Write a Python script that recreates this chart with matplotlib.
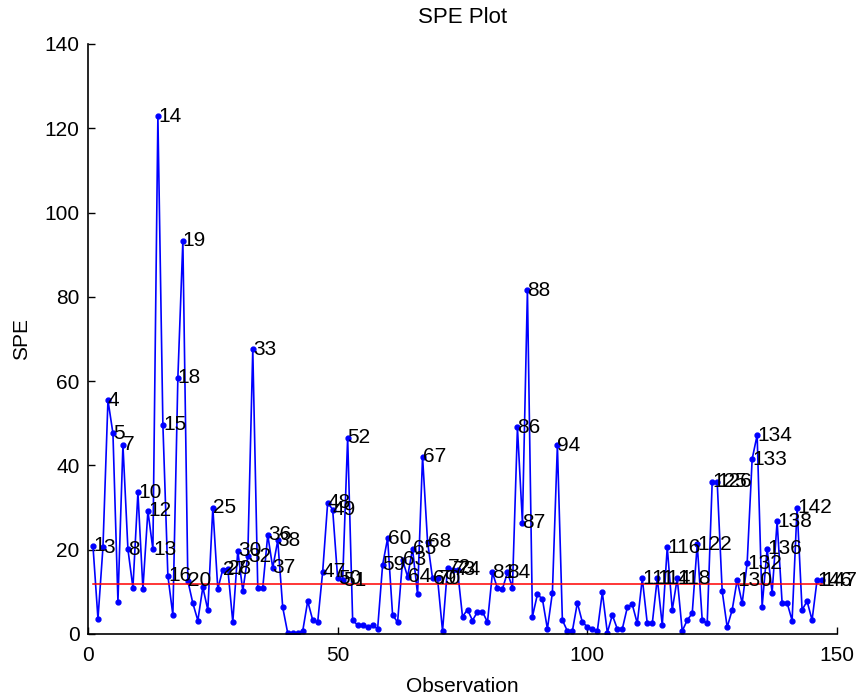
import numpy as np
import matplotlib.pyplot as plt

plt.rcParams['font.family'] = ['Liberation Sans', 'DejaVu Sans']

# SPE value for each observation 1..147
spe = [
    20.9, 3.6, 20.6, 55.5, 47.6, 7.7, 44.9, 20.1, 11.0, 33.6,
    10.7, 29.2, 20.1, 122.9, 49.7, 13.8, 4.5, 60.8, 93.3, 12.6,
    7.3, 3.2, 11.1, 5.7, 30.0, 10.7, 15.3, 15.5, 2.8, 19.8,
    10.2, 18.4, 67.6, 11.0, 11.0, 23.5, 15.7, 22.2, 6.3, 0.2,
    0.2, 0.3, 0.7, 7.8, 3.3, 2.8, 14.8, 31.2, 29.5, 13.2,
    12.8, 46.6, 3.3, 2.1, 2.1, 1.6, 2.1, 1.2, 16.4, 22.7,
    4.5, 2.8, 17.6, 13.6, 20.2, 9.4, 42.1, 21.9, 13.2, 13.2,
    0.7, 15.7, 15.2, 15.2, 4.1, 5.8, 3.2, 5.3, 5.3, 2.8,
    14.6, 10.8, 10.7, 14.6, 11.0, 49.0, 26.4, 81.6, 4.1, 9.4,
    8.3, 1.2, 9.8, 44.8, 3.3, 0.7, 0.7, 7.4, 2.8, 1.7,
    1.2, 0.7, 9.9, 0.3, 4.5, 1.2, 1.2, 6.3, 7.0, 2.5,
    13.2, 2.5, 2.5, 13.2, 2.1, 20.6, 5.7, 13.2, 0.7, 3.3,
    4.9, 21.3, 3.3, 2.5, 36.1, 36.1, 10.2, 1.6, 5.7, 12.8,
    7.3, 16.8, 41.5, 47.2, 6.5, 20.2, 9.8, 26.7, 7.4, 7.4,
    3.2, 30.0, 5.7, 7.8, 3.3, 12.8, 12.8,
]
spe_limit = 11.8

obs = np.arange(1, len(spe) + 1)
spe = np.array(spe)

fig = plt.figure(figsize=(8.6, 6.98), dpi=100)
ax = fig.add_axes([0.1023, 0.0917, 0.8710, 0.8453])

ax.plot(obs, spe, color='blue', linewidth=1.2, marker='.', markersize=7)
ax.plot([obs[0], obs[-1]], [spe_limit, spe_limit], color='red', linewidth=1.1)

# label observations above the control limit
for i, v in zip(obs, spe):
    if v > spe_limit:
        ax.text(i, v, str(i), fontsize=15, ha='left', va='center')

ax.set_xlim(0, 150)
ax.set_ylim(0, 140)
ax.set_xticks([0, 50, 100, 150])
ax.set_yticks(np.arange(0, 141, 20))
ax.tick_params(direction='in', labelsize=15, length=5, width=1)
ax.tick_params(axis='x', pad=9)
ax.tick_params(axis='y', pad=6)
for s in ['top', 'right']:
    ax.spines[s].set_visible(False)
for s in ['left', 'bottom']:
    ax.spines[s].set_linewidth(1.2)

ax.set_title('SPE Plot', fontsize=16, pad=15)
ax.set_xlabel('Observation', fontsize=15, labelpad=8)
ax.set_ylabel('SPE', fontsize=15, labelpad=10)

fig.savefig('out.png', dpi=100)
